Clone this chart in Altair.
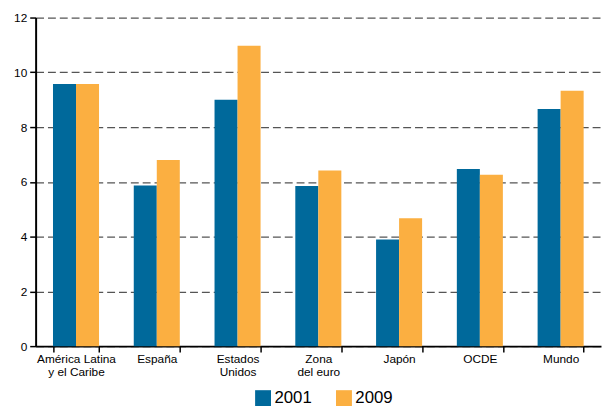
import altair as alt
import pandas as pd

categories = ["América Latina\ny el Caribe", "España", "Estados\nUnidos", "Zona\ndel euro", "Japón", "OCDE", "Mundo"]
v2001 = [9.57, 5.87, 9.0, 5.85, 3.89, 6.47, 8.66]
v2009 = [9.57, 6.8, 10.97, 6.41, 4.67, 6.26, 9.33]
years = ["2001", "2009"]
colors = ["#00699b", "#fbaf41"]

rows = []
for c, a, b in zip(categories, v2001, v2009):
    rows.append({"cat": c, "year": "2001", "value": a})
    rows.append({"cat": c, "year": "2009", "value": b})
df = pd.DataFrame(rows)

chart = alt.Chart(df).mark_bar().encode(
    x=alt.X("cat:N", sort=categories, title=None,
            scale=alt.Scale(paddingInner=0.43, paddingOuter=0.215),
            axis=alt.Axis(labelAngle=0, tickBand="extent", labelExpr="split(datum.label, '\\n')",
                          labelFontSize=12, labelColor="#000", labelFont="Liberation Sans",
                          domainColor="#000", domainWidth=2, tickColor="#000", tickWidth=1.5,
                          tickSize=6, labelPadding=2, labelLineHeight=13, grid=False)),
    xOffset=alt.XOffset("year:N", scale=alt.Scale(paddingInner=0, paddingOuter=0)),
    y=alt.Y("value:Q", title=None,
            scale=alt.Scale(domain=[0, 12], nice=False),
            axis=alt.Axis(values=[0, 2, 4, 6, 8, 10, 12], labelFontSize=12, labelColor="#000",
                          labelFont="Liberation Sans", domainColor="#000", domainWidth=2,
                          tickColor="#000", tickWidth=1.5, tickSize=6, labelPadding=3,
                          grid=True, gridDash=[8, 4], gridColor="#555", gridWidth=1.2,
                          gridOpacity=1)),
    color=alt.Color("year:N", scale=alt.Scale(domain=years, range=colors),
                    legend=alt.Legend(title=None, orient="none", legendX=222, legendY=377,
                                      direction="horizontal",
                                      symbolType="square", symbolSize=260, symbolStrokeWidth=0,
                                      symbolOpacity=1, labelFontSize=17, labelFont="Liberation Sans",
                                      labelColor="#000", columnPadding=24, labelOffset=3)),
).properties(
    width=573, height=333,
    autosize=alt.AutoSizeParams(type="none"),
    padding={"left": 28, "top": 7, "right": 1, "bottom": 58},
).configure_view(stroke=None)

chart.save("out.html", embed_options={"renderer": "svg", "actions": False})
